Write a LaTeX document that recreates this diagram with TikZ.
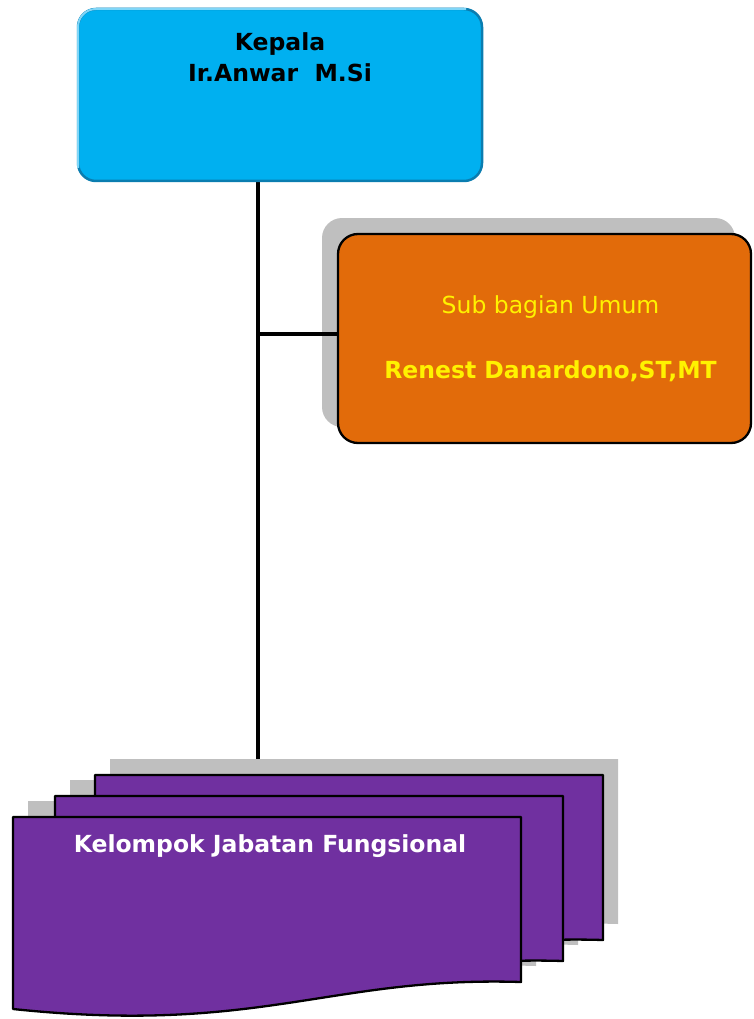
\documentclass[tikz,border=0pt]{standalone}
\usepackage{fontspec}
\setmainfont{DejaVu Sans}
\usetikzlibrary{positioning}
\definecolor{kepalablue}{HTML}{00B0F0}
\definecolor{kepalaedge}{HTML}{0A7DB0}
\definecolor{kepalalight}{HTML}{7FD6F8}
\definecolor{umumorange}{HTML}{E26B0A}
\definecolor{jafungpurple}{HTML}{7030A0}
\definecolor{shadowgray}{HTML}{BFBFBF}

\begin{document}
\begin{tikzpicture}[x=1pt, y=-1pt, line join=round,
    bluebox/.style={rectangle, rounded corners=18pt, fill=kepalablue, draw=kepalaedge,
      line width=2.5pt, minimum width=404pt, minimum height=172pt, inner sep=0pt},
    subbox/.style={rectangle, rounded corners=20pt, fill=umumorange, draw=black,
      line width=2.3pt, minimum width=413pt, minimum height=209pt, inner sep=0pt},
    shade/.style={fill=shadowgray},
    pagesheet/.style={fill=jafungpurple, draw=black, line width=2.3pt},
    link/.style={line width=4pt},
    txt/.style={font=\fontsize{23.5}{31}\selectfont}]
    \useasboundingbox (0,0) rectangle (753,1019);
    \def\docpage{(13,817) -- (521,817) -- (521,982)
      .. controls (330,976) and (260,1035) .. (13,1009) -- cycle}
    % trunk line and the branch to the sub bagian
    \coordinate (trunk) at (258,181);
    \coordinate (tee) at (258,334);
    \coordinate (stack) at (258,775);
    \draw[link] (trunk) -- (stack);
    % kepala box
    \node[bluebox] (kepala) at (280,95) {};
    \draw[kepalalight, line width=2pt, rounded corners=18pt] (78,168) -- (78,9) -- (466,9);
    \node[txt, font=\fontsize{23.5}{31}\selectfont\bfseries, align=center, inner sep=0pt,
      below=25pt of kepala.north] (kepala-txt) {Kepala\\Ir.Anwar~~M.Si};
    % sub bagian umum, shadow first
    \fill[shade, rounded corners=20pt] (322,218) rectangle (735,427);
    \node[subbox, text=yellow, align=center, font=\fontsize{23.5}{28}\selectfont]
      (sub) at (544.5,338.5) {\hspace*{12pt}Sub bagian Umum\\[37pt]
        \hspace*{12pt}\textbf{Renest Danardono,ST,MT}};
    \draw[link] (tee) -- (tee -| sub.west);
    % stack of pages (shadows behind all of them)
    \foreach \dx/\dy in {82/-42, 42/-21, 0/0}
      \fill[shade, shift={(\dx+15,\dy-16)}] \docpage;
    \foreach \dx/\dy in {82/-42, 42/-21, 0/0}
      \draw[pagesheet, shift={(\dx,\dy)}] \docpage;
    \node[txt, text=white, font=\fontsize{23.5}{31}\selectfont\bfseries]
      (fungsional) at (270,846) {Kelompok Jabatan Fungsional};
\end{tikzpicture}
\end{document}
